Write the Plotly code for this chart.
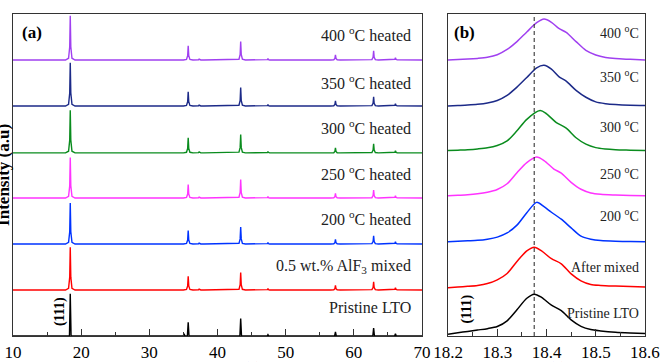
import plotly.graph_objects as go

# ---------------- data ----------------
series_names = ["Pristine LTO", "0.5 wt.% AlF3 mixed", "200 °C heated", "250 °C heated",
                "300 °C heated", "350 °C heated", "400 °C heated"]
series_colors = ["#000000", "#ff0000", "#0033ff", "#ff33ff", "#0a8c1e", "#1c2a88", "#a040f0"]
offsets_a = [0.0, 1.0, 2.0, 3.0, 3.98, 5.0, 6.0]

# panel (a): peak positions (2theta) and heights
peaks_pristine = [18.4, 35.1, 35.7, 43.4, 47.4, 57.3, 62.9, 66.1]
heights_pristine = [0.92, 0.05, 0.30, 0.38, 0.03, 0.09, 0.17, 0.05]

peaks_coated = [25.4, 30.3, 18.4, 35.7, 37.3, 43.4, 47.4, 57.3, 62.9, 66.1]
heights_mixed = [0.015, 0.015, 0.93, 0.30, 0.02, 0.38, 0.03, 0.10, 0.18, 0.05]
heights_200 = [0.015, 0.015, 0.89, 0.29, 0.02, 0.37, 0.03, 0.10, 0.18, 0.05]
heights_250 = [0.015, 0.015, 0.88, 0.29, 0.02, 0.40, 0.03, 0.10, 0.17, 0.05]
heights_300 = [0.015, 0.015, 0.93, 0.33, 0.02, 0.40, 0.03, 0.11, 0.20, 0.05]
heights_350 = [0.015, 0.015, 0.94, 0.31, 0.02, 0.40, 0.03, 0.11, 0.20, 0.05]
heights_400 = [0.015, 0.015, 0.96, 0.31, 0.02, 0.40, 0.03, 0.11, 0.20, 0.05]

# relative profile used to draw each reflection
profile_dx = [-0.7, -0.25, -0.08, 0.0, 0.08, 0.25, 0.7]
profile_rel = [0.0, 0.04, 0.3, 1.0, 0.3, 0.04, 0.0]
stick_dx = [-0.12, 0.0, 0.12]
stick_rel = [0.0, 1.0, 0.0]

# panel (b): (111) reflection, read point by point
b_x_black = [18.2, 18.22, 18.24, 18.26, 18.28, 18.30, 18.32, 18.34, 18.36, 18.375, 18.39, 18.41, 18.43, 18.45, 18.47, 18.49, 18.51, 18.54, 18.57, 18.6]
b_y_black = [0.0, 0.03, 0.06, 0.09, 0.12, 0.165, 0.29, 0.53, 0.78, 0.87, 0.80, 0.63, 0.51, 0.31, 0.17, 0.10, 0.07, 0.04, 0.025, 0.015]
b_x_red = [18.2, 18.22, 18.24, 18.26, 18.28, 18.30, 18.32, 18.34, 18.36, 18.375, 18.39, 18.41, 18.43, 18.45, 18.47, 18.49, 18.51, 18.54, 18.57, 18.6]
b_y_red = [0.0, 0.015, 0.03, 0.05, 0.09, 0.17, 0.31, 0.57, 0.80, 0.88, 0.80, 0.63, 0.52, 0.30, 0.15, 0.07, 0.05, 0.036, 0.025, 0.015]
b_x_blue = [18.2, 18.22, 18.24, 18.26, 18.28, 18.30, 18.32, 18.34, 18.36, 18.38, 18.395, 18.41, 18.43, 18.45, 18.47, 18.49, 18.51, 18.54, 18.57, 18.6]
b_y_blue = [0.0, 0.01, 0.02, 0.03, 0.055, 0.10, 0.19, 0.36, 0.63, 0.855, 0.76, 0.64, 0.49, 0.30, 0.12, 0.055, 0.025, 0.01, 0.005, 0.0]
b_x_pink = [18.2, 18.22, 18.24, 18.26, 18.28, 18.30, 18.32, 18.34, 18.36, 18.38, 18.395, 18.415, 18.43, 18.45, 18.47, 18.49, 18.51, 18.54, 18.57, 18.6]
b_y_pink = [0.0, 0.01, 0.02, 0.04, 0.075, 0.135, 0.26, 0.50, 0.72, 0.84, 0.765, 0.58, 0.49, 0.29, 0.14, 0.06, 0.03, 0.015, 0.005, 0.0]
b_x_green = [18.2, 18.22, 18.24, 18.26, 18.28, 18.30, 18.32, 18.34, 18.36, 18.387, 18.40, 18.42, 18.44, 18.46, 18.48, 18.50, 18.52, 18.54, 18.57, 18.6]
b_y_green = [0.0, 0.01, 0.02, 0.036, 0.06, 0.11, 0.21, 0.43, 0.68, 0.87, 0.80, 0.61, 0.49, 0.28, 0.14, 0.065, 0.035, 0.02, 0.01, 0.0]
b_x_navy = [18.2, 18.22, 18.24, 18.26, 18.28, 18.30, 18.32, 18.34, 18.36, 18.38, 18.395, 18.41, 18.425, 18.44, 18.46, 18.48, 18.50, 18.52, 18.54, 18.57, 18.6]
b_y_navy = [0.0, 0.01, 0.02, 0.036, 0.065, 0.12, 0.23, 0.41, 0.62, 0.83, 0.884, 0.80, 0.64, 0.54, 0.34, 0.19, 0.09, 0.05, 0.03, 0.015, 0.01]
b_x_purple = [18.2, 18.22, 18.24, 18.26, 18.28, 18.30, 18.32, 18.34, 18.36, 18.38, 18.395, 18.41, 18.425, 18.44, 18.46, 18.48, 18.50, 18.52, 18.54, 18.57, 18.6]
b_y_purple = [0.0, 0.01, 0.02, 0.035, 0.06, 0.115, 0.23, 0.40, 0.61, 0.81, 0.89, 0.82, 0.685, 0.60, 0.40, 0.21, 0.11, 0.055, 0.03, 0.015, 0.0]
offsets_b = [0.04, 1.05, 2.05, 3.05, 4.03, 5.0, 6.0]
ref_line_b = 18.375

labels_a = ["Pristine LTO", "0.5 wt.% AlF<sub>3</sub> mixed", "200 <sup>o</sup>C heated",
            "250 <sup>o</sup>C heated", "300 <sup>o</sup>C heated", "350 <sup>o</sup>C heated",
            "400 <sup>o</sup>C heated"]
label_y_a = [0.63, 1.52, 2.56, 3.55, 4.55, 5.52, 6.57]
labels_b = ["Pristine LTO", "After mixed", "200 <sup>o</sup>C", "250 <sup>o</sup>C",
            "300 <sup>o</sup>C", "350 <sup>o</sup>C", "400 <sup>o</sup>C"]
label_y_b = [0.5, 1.5, 2.63, 3.55, 4.57, 5.65, 6.61]


def build_pattern(peaks, heights, dxs, rels, off):
    pairs = sorted(zip(peaks, heights))
    xs, ys = [10.0], [off]
    for p, h in pairs:
        for dx, r in zip(dxs, rels):
            xs.append(p + dx)
            ys.append(off + r * h)
    xs.append(70.0)
    ys.append(off)
    return xs, ys


fig = go.Figure()
FONT = "Liberation Serif"

a_sets = [(peaks_pristine, heights_pristine, stick_dx, stick_rel),
          (peaks_coated, heights_mixed, profile_dx, profile_rel),
          (peaks_coated, heights_200, profile_dx, profile_rel),
          (peaks_coated, heights_250, profile_dx, profile_rel),
          (peaks_coated, heights_300, profile_dx, profile_rel),
          (peaks_coated, heights_350, profile_dx, profile_rel),
          (peaks_coated, heights_400, profile_dx, profile_rel)]
for i, (pk, hh, dxs, rels) in enumerate(a_sets):
    xs, ys = build_pattern(pk, hh, dxs, rels, offsets_a[i])
    fig.add_trace(go.Scatter(x=xs, y=ys, mode="lines", line=dict(color=series_colors[i], width=1.4),
                             xaxis="x", yaxis="y", showlegend=False, name=series_names[i]))

b_sets = [(b_x_black, b_y_black), (b_x_red, b_y_red), (b_x_blue, b_y_blue), (b_x_pink, b_y_pink),
          (b_x_green, b_y_green), (b_x_navy, b_y_navy), (b_x_purple, b_y_purple)]
for i, (bx, by) in enumerate(b_sets):
    fig.add_trace(go.Scatter(x=bx, y=[v + offsets_b[i] for v in by], mode="lines",
                             line=dict(color=series_colors[i], width=1.5, shape="spline", smoothing=0.8),
                             xaxis="x2", yaxis="y2", showlegend=False, name=series_names[i]))

ann = []
for t, yy in zip(labels_a, label_y_a):
    ann.append(dict(x=68.7, y=yy, xref="x", yref="y", text=t, showarrow=False, xanchor="right",
                    yanchor="middle", font=dict(family=FONT, size=16, color="#222")))
for t, yy in zip(labels_b, label_y_b):
    ann.append(dict(x=18.592, y=yy, xref="x2", yref="y2", text=t, showarrow=False, xanchor="right",
                    yanchor="middle", font=dict(family=FONT, size=14, color="#222")))
ann.append(dict(x=11.0, y=6.59, xref="x", yref="y", text="<b>(a)</b>", showarrow=False,
                xanchor="left", yanchor="middle", font=dict(family=FONT, size=17, color="black")))
ann.append(dict(x=18.208, y=6.6, xref="x2", yref="y2", text="<b>(b)</b>", showarrow=False,
                xanchor="left", yanchor="middle", font=dict(family=FONT, size=17, color="black")))
ann.append(dict(x=16.9, y=0.52, xref="x", yref="y", text="<b>(111)</b>", showarrow=False, textangle=-90,
                xanchor="center", yanchor="middle", font=dict(family=FONT, size=14, color="black")))
ann.append(dict(x=18.238, y=0.59, xref="x2", yref="y2", text="<b>(111)</b>", showarrow=False, textangle=-90,
                xanchor="center", yanchor="middle", font=dict(family=FONT, size=14, color="black")))
ann.append(dict(x=-0.016, y=0.5, xref="paper", yref="paper", text="<b>Intensity (a.u)</b>", showarrow=False,
                textangle=-90, xanchor="center", yanchor="middle",
                font=dict(family=FONT, size=17, color="black")))
ann.append(dict(x=0.36, y=-0.066, xref="paper", yref="paper", text="<b>2θ (°)</b>", showarrow=False,
                xanchor="center", yanchor="top", font=dict(family=FONT, size=18, color="black")))
ann.append(dict(x=0.843, y=-0.066, xref="paper", yref="paper", text="<b>2θ (°)</b>", showarrow=False,
                xanchor="center", yanchor="top", font=dict(family=FONT, size=18, color="black")))

axis_common = dict(showline=True, linecolor="#333", linewidth=1.2, mirror=True, showgrid=False,
                   zeroline=False, ticks="inside", ticklen=7, tickcolor="#333", automargin=False,
                   tickfont=dict(family=FONT, size=17, color="black"))

fig.update_layout(
    width=665, height=362,
    margin=dict(l=13, r=20, t=14, b=26, autoexpand=False),
    paper_bgcolor="white", plot_bgcolor="white",
    xaxis=dict(domain=[0, 0.6472], range=[10, 70], dtick=10, anchor="y",
               minor=dict(ticks="inside", ticklen=4, dtick=5, tickcolor="#333"), **axis_common),
    yaxis=dict(domain=[0, 1], range=[0, 7], showticklabels=False, anchor="x", automargin=False,
               showline=True, linecolor="#333", linewidth=1.2, mirror=True, showgrid=False,
               zeroline=False, ticks=""),
    xaxis2=dict(domain=[0.6883, 1], range=[18.2, 18.6], dtick=0.1, tickformat=".1f", anchor="y2",
                minor=dict(ticks="inside", ticklen=4, dtick=0.05, tickcolor="#333"), **axis_common),
    yaxis2=dict(domain=[0, 1], range=[0, 7], showticklabels=False, anchor="x2", automargin=False,
                showline=True, linecolor="#333", linewidth=1.2, mirror=True, showgrid=False,
                zeroline=False, ticks=""),
    annotations=ann,
    shapes=[dict(type="line", xref="x2", yref="y2", x0=ref_line_b, x1=ref_line_b, y0=0, y1=7,
                 line=dict(color="#222", width=1, dash="4px,3px"))],
)

fig.write_html("out.html", config={"displayModeBar": False},
               post_script="document.body.style.margin='0';")
